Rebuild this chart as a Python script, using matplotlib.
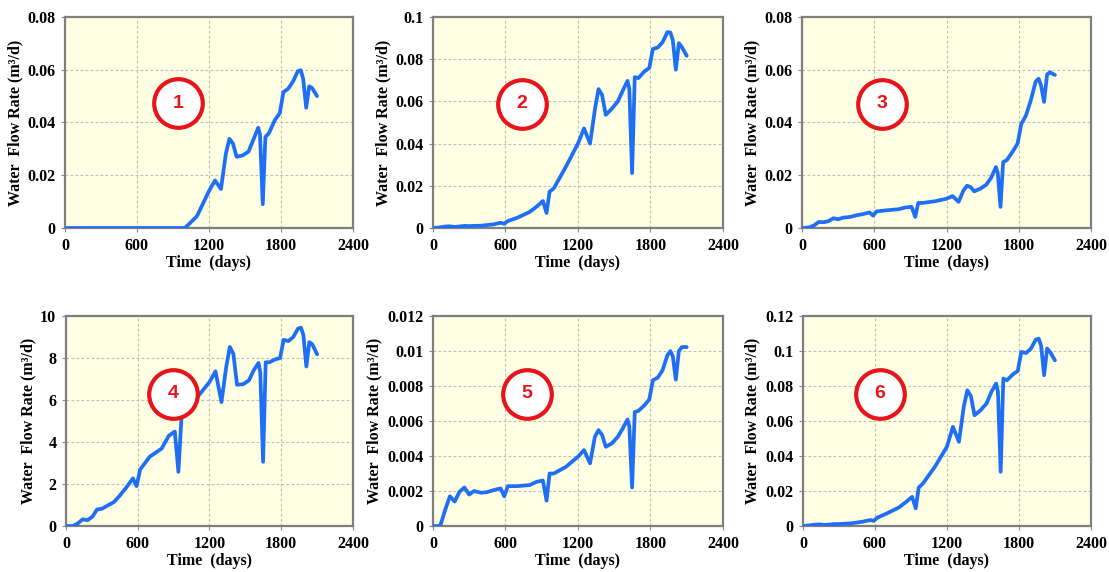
import numpy as np
import matplotlib.pyplot as plt
from matplotlib.ticker import FuncFormatter

# sampling times shared by all six wells (days)
days = [0, 60, 100, 140, 180, 220, 260, 300, 340, 400, 450, 500, 560, 590, 620,
        700, 800, 860, 910, 940, 965, 1000, 1100, 1200, 1250, 1300, 1340, 1370,
        1400, 1430, 1480, 1530, 1570, 1610, 1625, 1648, 1670, 1700, 1750, 1790,
        1820, 1860, 1900, 1940, 1965, 1985, 2010, 2035, 2060, 2100]

rate_1 = [0] * 22 + [0.0045, 0.014, 0.018, 0.0148, 0.028, 0.0338, 0.032, 0.027,
                     0.0275, 0.029, 0.0335, 0.038, 0.0355, 0.009, 0.0345, 0.036,
                     0.041, 0.0435, 0.0515, 0.0528, 0.0555, 0.0594, 0.0598, 0.0565,
                     0.0456, 0.0537, 0.053, 0.050]

rate_2 = [0, 0.0003, 0.0007, 0.0008, 0.0005, 0.0007, 0.001, 0.0009, 0.001, 0.0011,
          0.0014, 0.0017, 0.0025, 0.002, 0.0033, 0.0049, 0.0076, 0.0102, 0.0128,
          0.0071, 0.0172, 0.0188, 0.029, 0.040, 0.0472, 0.040, 0.056, 0.0658, 0.063,
          0.0536, 0.0565, 0.060, 0.065, 0.0697, 0.066, 0.026, 0.0715, 0.071, 0.0742,
          0.0758, 0.0848, 0.0855, 0.088, 0.0928, 0.0926, 0.089, 0.075, 0.0876,
          0.0857, 0.0816]

rate_3 = [0, 0.0002, 0.001, 0.0023, 0.0022, 0.0026, 0.0037, 0.0033, 0.0039, 0.0042,
          0.0048, 0.0052, 0.0059, 0.0047, 0.0063, 0.0067, 0.0071, 0.0078, 0.008,
          0.0042, 0.0095, 0.0095, 0.0101, 0.0111, 0.0121, 0.0099, 0.0142, 0.016,
          0.0155, 0.0139, 0.0149, 0.0164, 0.019, 0.0231, 0.021, 0.008, 0.025, 0.0257,
          0.029, 0.032, 0.0393, 0.0427, 0.0484, 0.0555, 0.0566, 0.054, 0.0478,
          0.0582, 0.059, 0.058]

rate_4 = [0, 0.0, 0.13, 0.32, 0.28, 0.44, 0.79, 0.82, 0.95, 1.14, 1.45, 1.8, 2.27,
          1.9, 2.69, 3.3, 3.69, 4.3, 4.5, 2.58, 5.1, 5.7, 6.15, 6.86, 7.37, 5.9,
          7.58, 8.53, 8.2, 6.73, 6.75, 6.94, 7.42, 7.77, 7.3, 3.06, 7.8, 7.8, 7.94,
          8.0, 8.87, 8.81, 9.0, 9.4, 9.45, 9.1, 7.6, 8.76, 8.65, 8.18]

rate_5 = [0, 0, 0.0009, 0.0017, 0.0014, 0.00196, 0.0022, 0.0018, 0.002, 0.0019,
          0.00194, 0.00205, 0.00215, 0.0017, 0.00228, 0.00228, 0.00234, 0.00253,
          0.0026, 0.00145, 0.003, 0.003, 0.00338, 0.00396, 0.00434, 0.00358,
          0.0051, 0.00548, 0.0052, 0.00453, 0.00472, 0.0051, 0.00557, 0.00609,
          0.0057, 0.0022, 0.00652, 0.00658, 0.0069, 0.00723, 0.00833, 0.00848,
          0.0089, 0.00976, 0.01, 0.0097, 0.00837, 0.01, 0.01023, 0.01023]

rate_6 = [0, 0.0004, 0.0008, 0.0009, 0.0006, 0.0008, 0.0011, 0.0011, 0.0013, 0.0015,
          0.002, 0.0025, 0.0034, 0.0029, 0.0048, 0.0072, 0.0106, 0.0138, 0.0167,
          0.0101, 0.022, 0.0243, 0.0339, 0.0453, 0.0567, 0.0481, 0.068, 0.0776,
          0.0742, 0.0633, 0.0662, 0.07, 0.0766, 0.0814, 0.077, 0.031, 0.0843,
          0.0833, 0.0867, 0.0886, 0.0995, 0.0989, 0.1014, 0.1065, 0.1071, 0.103,
          0.0862, 0.1014, 0.0995, 0.0947]

rates = [rate_1, rate_2, rate_3, rate_4, rate_5, rate_6]
y_max = [0.08, 0.1, 0.08, 10, 0.012, 0.12]
y_step = [0.02, 0.02, 0.02, 2, 0.002, 0.02]
well_labels = ['1', '2', '3', '4', '5', '6']

# axes boxes in figure fractions, and where each well badge sits (axes fractions)
boxes = [[0.0586, 0.6014, 0.2597, 0.369], [0.3904, 0.6014, 0.2615, 0.369],
         [0.7232, 0.6014, 0.2606, 0.369], [0.0595, 0.0804, 0.2588, 0.367],
         [0.3904, 0.0804, 0.2615, 0.367], [0.7240, 0.0804, 0.2597, 0.367]]
badge_pos = [(0.393, 0.592), (0.306, 0.588), (0.277, 0.588),
             (0.374, 0.629), (0.324, 0.629), (0.266, 0.629)]

plt.rcParams['font.family'] = ['Liberation Serif', 'DejaVu Serif']
plt.rcParams['font.weight'] = 'bold'

fig = plt.figure(figsize=(11.09, 5.72), dpi=100)

for i in range(6):
    ax = fig.add_axes(boxes[i])
    ax.set_facecolor('#FFFFE3')
    ax.plot(days, rates[i], color='#1F6FF5', lw=2.7, solid_joinstyle='round',
            solid_capstyle='round', zorder=3)
    ax.set_xlim(0, 2400)
    ax.set_ylim(0, y_max[i])
    ax.set_xticks(np.arange(0, 2401, 600))
    ax.set_yticks(np.arange(0, y_max[i] + y_step[i] / 2, y_step[i]))
    ax.yaxis.set_major_formatter(FuncFormatter(lambda v, p: '{:g}'.format(round(v, 6))))
    ax.grid(True, color='#BDBDBD', ls=(0, (2.5, 2)), lw=0.8)
    ax.tick_params(length=3, width=0.8, color='#888888', labelsize=11.5, pad=4)
    for lab in ax.get_xticklabels() + ax.get_yticklabels():
        lab.set_fontweight('bold')
    for s in ax.spines.values():
        s.set_color('#7F7F7F')
        s.set_linewidth(1.6)
    ax.set_xlabel('Time  (days)', fontsize=11.5, fontweight='bold', labelpad=1)
    ax.set_ylabel('Water  Flow Rate (m³/d)', fontsize=11.5,
                  fontweight='bold', labelpad=3)

    bx, by = badge_pos[i]
    ax.plot([bx], [by], 'o', ms=35, mfc='white', mec='#E8141B', mew=3,
            transform=ax.transAxes, zorder=5, clip_on=False)
    ax.text(bx, by, well_labels[i], transform=ax.transAxes, ha='center',
            va='center', color='#E8141B', fontsize=14, fontweight='bold',
            family=['Liberation Sans', 'DejaVu Sans'], zorder=6)

fig.savefig('out.png', dpi=100, facecolor='white')
